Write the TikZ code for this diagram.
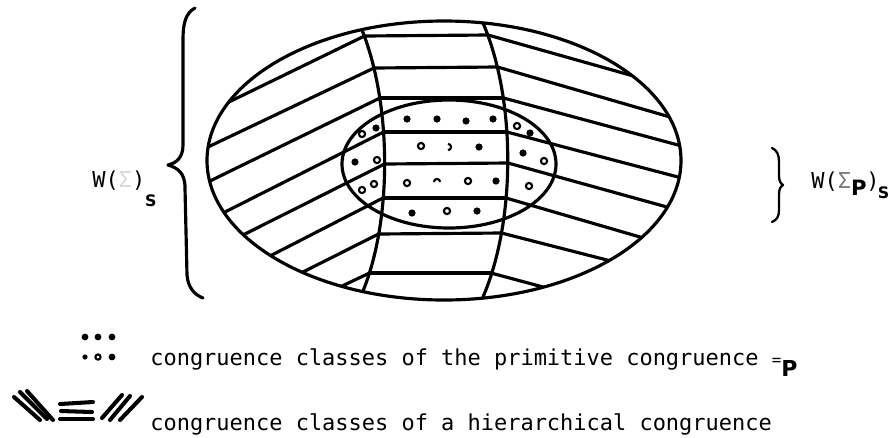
\documentclass[tikz,border=0pt]{standalone}
\usepackage{fontspec}
\setmonofont{DejaVu Sans Mono}
\newfontfamily\subfont{DejaVu Sans}
\usetikzlibrary{calc}
\usepackage{xcolor}
\definecolor{Ink}{RGB}{0,0,0}
\definecolor{Faint}{RGB}{215,215,215}
\definecolor{Grey}{RGB}{120,120,120}
\newcommand{\subP}[2]{\raisebox{#1}{\subfont\bfseries\fontsize{#2}{14}\selectfont P}}
\newcommand{\subS}[1]{\raisebox{#1}{\subfont\bfseries\fontsize{9}{11}\selectfont S}}

\begin{document}
\begin{tikzpicture}[x=0.02cm, y=-0.02cm,
  stroke/.style={Ink, line width=1.8pt, line cap=round, line join=round},
  thinstroke/.style={Ink, line width=1.3pt, line cap=round, line join=round},
  markstroke/.style={Ink, line width=2.3pt, line cap=round},
  dotfull/.style={fill=Ink},
  dotopen/.style={draw=Ink, line width=1.2pt},
  txt/.style={anchor=base west, inner sep=0pt, font=\ttfamily\fontsize{12.5}{15}\selectfont}]
\useasboundingbox (0,0) rectangle (891,437);

\coordinate (l1) at (364.5,36);
\coordinate (l2) at (374,68);
\coordinate (l3) at (380,98);
\coordinate (l4) at (383.5,132);
\coordinate (l5) at (384.5,164);
\coordinate (l6) at (383,198);
\coordinate (l7) at (378.5,234);
\coordinate (l8) at (369.5,273);
\coordinate (r1) at (488,35);
\coordinate (r2) at (497.5,67);
\coordinate (r3) at (503.5,98);
\coordinate (r4) at (507,132);
\coordinate (r5) at (508,163);
\coordinate (r6) at (506,198);
\coordinate (r7) at (501.5,233);
\coordinate (r8) at (491,273);

\begin{scope}
\clip (444,160.5) ellipse [x radius=237, y radius=139.5];
\foreach \i/\ax/\ay in {1/233/100,2/208/147,3/212/180,4/223/213,5/243/235,6/268/257,7/303/272,8/340/287}
  \draw[stroke] (l\i) -- ($(l\i)!1.3!(\ax,\ay)$);
\foreach \i/\ax/\ay in {1/630/75,2/670/117,3/678/145,4/678/177,5/667/207,6/640/237,7/607/260,8/543/287}
  \draw[stroke] (r\i) -- ($(r\i)!1.3!(\ax,\ay)$);
\foreach \i in {1,...,8}
  \draw[stroke] (l\i) -- (r\i);
\end{scope}

\draw[stroke] (444,160.5) ellipse [x radius=237, y radius=139.5];
\draw[stroke] (449,164) ellipse [x radius=107, y radius=64];
\draw[stroke] (362,30) .. controls (392,105) and (392,220) .. (363,291);
\draw[stroke] (483,23) .. controls (516,100) and (516,220) .. (483,297);

\foreach \p in {(407,119),(437,119),(466,121),(493,119),(376,128),(479,147),(355,162),(530,133),(523,153),(496,181),(412,213),(477,211)}
  \fill[dotfull] \p circle (3.6);
\foreach \p in {(362,134),(421,146),(377,160),(517,126),(544,161),(407,183),(468,181),(362,190),(374,184),(529,186),(447,211)}
  \draw[dotopen] \p circle (3.1);
\draw[dotopen] (448,143.9) arc (-90:90:3.1);
\draw[dotopen] (433.9,182) arc (180:360:3.1);

\draw[stroke] (195,8) .. controls (186,13) and (183,22) .. (183,40) -- (183,145)
  .. controls (183,158) and (176,163) .. (168,165)
  .. controls (178,168) and (185,173) .. (185,188) -- (187,275)
  .. controls (188,288) and (195,295) .. (203,298);
\draw[thinstroke] (772,148) .. controls (777,150) and (779,155) .. (779,162) -- (779,176)
  .. controls (779,181) and (781,184) .. (783,185)
  .. controls (781,186) and (779,189) .. (779,194) -- (779,210)
  .. controls (779,216) and (777,220) .. (772,222);

\node[txt] (wall) at (92,187) {W(\textcolor{Faint}{Σ})\subS{-11pt}};
\node[txt] (wprim) at (811,188) {W(\textcolor{Grey}{Σ}\subP{-4pt}{12})\kern-1pt\subS{-5.7pt}};

\foreach \p in {(85,337),(98,337),(112,337),(112,357)}
  \fill[dotfull] \p circle (3.4);
\fill[dotfull] (85,357) circle (2.6);
\draw[dotopen] (98,357) circle (2.6);

\draw[markstroke] (14,397) -- (40,420);
\draw[markstroke] (20,392) -- (47,419);
\draw[markstroke] (27,391) -- (53,420);
\draw[markstroke] (60,404) -- (93,402);
\draw[markstroke] (61,411) -- (92,412);
\draw[markstroke] (60,419) -- (93,419);
\draw[markstroke] (102,418) -- (122,395);
\draw[markstroke] (110,420) -- (130,396);
\draw[markstroke] (120,420) -- (142,397);

\node[txt] (prim) at (150,365) {congruence classes of the primitive congruence {\fontsize{9}{10}\selectfont=}\subP{-6.8pt}{12.5}};
\node[txt] (hier) at (150,430) {congruence classes of a hierarchical congruence};
\end{tikzpicture}
\end{document}
